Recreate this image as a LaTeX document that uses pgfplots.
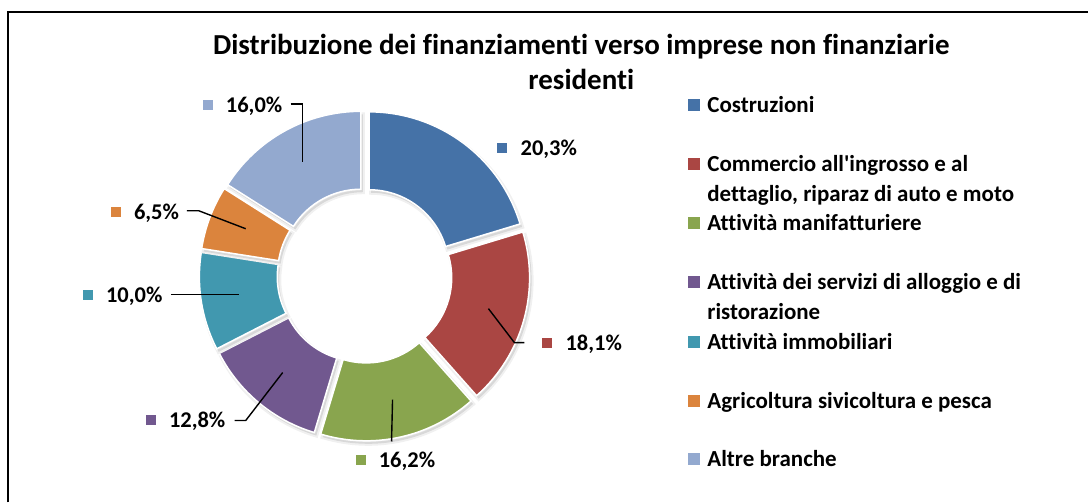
\documentclass[border=0pt]{standalone}
\usepackage{pgfplots}
\pgfplotsset{compat=1.18}
\usepackage{pgfplotstable}
\usepackage{fontspec}
\setmainfont{Carlito}[Ligatures={NoCommon}]
\definecolor{cA}{HTML}{4572A7}
\definecolor{cB}{HTML}{AA4643}
\definecolor{cC}{HTML}{89A54E}
\definecolor{cD}{HTML}{71588F}
\definecolor{cE}{HTML}{4198AF}
\definecolor{cF}{HTML}{DB843D}
\definecolor{cG}{HTML}{93A9CF}

% value, colour, label marker (x,y from top), leader line points (x,y from top)
\pgfplotstableread[col sep=comma]{
v,col,mx,my,ax,ay,bx,by,cx,cy,lead
20.3,cA,503,148,0,0,0,0,0,0,0
18.1,cB,548,343,525,343,515,343,489,309,1
16.2,cC,361,461,392,442,392,442,393,400,1
12.8,cD,151,420,235,421,246,421,283,373,1
10.0,cE,88,295,171,295,171,295,239,295,1
6.5,cF,116,212,187,211,199,211,246,229,1
16.0,cG,208,105,291,104,303,104,303,162,1
}\slices

\begin{document}
\begin{tikzpicture}
\begin{axis}[
  scale only axis, width=1089pt, height=503pt,
  xmin=0, xmax=1089, ymin=0, ymax=503,
  hide axis, clip=false,
  font=\fontsize{20}{24}\selectfont\bfseries,
]
% invisible frame to fix the picture size
\addplot[draw=none, forget plot] coordinates {(0,0) (1089,503)};

% border of the chart area
\draw[black, line width=2.5pt] (axis cs:8,0) -- (axis cs:8,491) -- (axis cs:1089,491);

% title
\node[align=center, font=\fontsize{29}{35}\selectfont\bfseries] at (axis cs:582,441)
  {Distribuzione dei finanziamenti verso imprese non finanziarie\\residenti};

\pgfplotstablegetrowsof{\slices}
\pgfmathtruncatemacro\N{\pgfplotsretval-1}
\def\total{99.9}
\def\cum{0}
\def\Rout{158}
\def\Rin{80}
\def\X{365}
\def\Y{227}
\pgfplotsforeachungrouped \i in {0,...,\N}{%
  \pgfplotstablegetelem{\i}{v}\of\slices \let\val\pgfplotsretval
  \pgfplotstablegetelem{\i}{col}\of\slices \let\col\pgfplotsretval
  \pgfmathsetmacro\aone{90-\cum/\total*360}%
  \pgfmathsetmacro\atwo{90-(\cum+\val)/\total*360}%
  \pgfmathsetmacro\amid{(\aone+\atwo)/2}%
  \pgfmathsetmacro\ox{\X+7.5*cos(\amid)}%
  \pgfmathsetmacro\oy{\Y+7.5*sin(\amid)}%
  \pgfmathsetmacro\xa{\ox+\Rout*cos(\aone)}%
  \pgfmathsetmacro\ya{\oy+\Rout*sin(\aone)}%
  \pgfmathsetmacro\xb{\ox+\Rin*cos(\atwo)}%
  \pgfmathsetmacro\yb{\oy+\Rin*sin(\atwo)}%
  \pgfmathsetmacro\sxa{\xa+2}%
  \pgfmathsetmacro\sya{\ya-3}%
  \pgfmathsetmacro\sxb{\xb+2}%
  \pgfmathsetmacro\syb{\yb-3}%
  \edef\doit{%
    \noexpand\fill[black, opacity=0.10, draw=black, draw opacity=0.06, line width=4pt]
      (axis cs:\sxa,\sya) arc[start angle=\aone, end angle=\atwo, radius=\Rout]
      -- (axis cs:\sxb,\syb) arc[start angle=\atwo, end angle=\aone, radius=\Rin] -- cycle;
    \noexpand\fill[fill=\col, draw=white, line width=1.5pt]
      (axis cs:\xa,\ya) arc[start angle=\aone, end angle=\atwo, radius=\Rout]
      -- (axis cs:\xb,\yb) arc[start angle=\atwo, end angle=\aone, radius=\Rin] -- cycle;
  }\doit
  \pgfmathsetmacro\cum{\cum+\val}%
}

% data labels and leader lines
\pgfplotsforeachungrouped \i in {0,...,\N}{%
  \pgfplotstablegetelem{\i}{v}\of\slices \let\val\pgfplotsretval
  \pgfplotstablegetelem{\i}{col}\of\slices \let\col\pgfplotsretval
  \pgfplotstablegetelem{\i}{mx}\of\slices \let\mx\pgfplotsretval
  \pgfplotstablegetelem{\i}{my}\of\slices \let\my\pgfplotsretval
  \pgfplotstablegetelem{\i}{ax}\of\slices \let\ax\pgfplotsretval
  \pgfplotstablegetelem{\i}{ay}\of\slices \let\ay\pgfplotsretval
  \pgfplotstablegetelem{\i}{bx}\of\slices \let\bx\pgfplotsretval
  \pgfplotstablegetelem{\i}{by}\of\slices \let\by\pgfplotsretval
  \pgfplotstablegetelem{\i}{cx}\of\slices \let\ccx\pgfplotsretval
  \pgfplotstablegetelem{\i}{cy}\of\slices \let\ccy\pgfplotsretval
  \pgfplotstablegetelem{\i}{lead}\of\slices \let\lead\pgfplotsretval
  \pgfmathsetmacro\mya{503-\my-5}%
  \pgfmathsetmacro\myb{503-\my+5}%
  \pgfmathsetmacro\mxa{\mx-5}%
  \pgfmathsetmacro\mxb{\mx+5}%
  \pgfmathsetmacro\tx{\mx+18}%
  \pgfmathsetmacro\ty{503-\my-7.5}%
  \pgfmathsetmacro\Ay{503-\ay}%
  \pgfmathsetmacro\By{503-\by}%
  \pgfmathsetmacro\Cy{503-\ccy}%
  \edef\doit{%
    \noexpand\fill[\col] (axis cs:\mxa,\mya) rectangle (axis cs:\mxb,\myb);
    \noexpand\node[anchor=base west, inner sep=0pt, font=\noexpand\fontsize{22.5}{26}\noexpand\selectfont\noexpand\bfseries]
      at (axis cs:\tx,\ty) {\noexpand\pgfmathprintnumber[fixed, fixed zerofill, precision=1, use comma, assume math mode=true]{\val}\noexpand\%};
  }\doit
  \ifnum\lead=1
    \edef\doit{%
      \noexpand\draw[black, line width=1.4pt] (axis cs:\ax,\Ay) -- (axis cs:\bx,\By) -- (axis cs:\ccx,\Cy);
    }\doit
  \fi
}

% legend
\def\legitem#1#2#3#4{%
  \fill[#1] (axis cs:689,{503-#2-6}) rectangle (axis cs:701,{503-#2+6});
  \node[anchor=base west, inner sep=0pt, font=\fontsize{23}{30}\selectfont\bfseries]
    at (axis cs:708,{503-#2-7.5}) {#3};
  \node[anchor=base west, inner sep=0pt, font=\fontsize{23}{30}\selectfont\bfseries]
    at (axis cs:708,{503-#2-37.5}) {#4};
}
\legitem{cA}{105}{Costruzioni}{}
\legitem{cB}{164}{Commercio all\textquotesingle ingrosso e al}{dettaglio, riparaz di auto e moto}
\legitem{cC}{223}{Attività manifatturiere}{}
\legitem{cD}{282}{Attività dei servizi di alloggio e di}{ristorazione}
\legitem{cE}{342}{Attività immobiliari}{}
\legitem{cF}{401}{Agricoltura sivicoltura e pesca}{}
\legitem{cG}{460}{Altre branche}{}
\end{axis}
\end{tikzpicture}
\end{document}
